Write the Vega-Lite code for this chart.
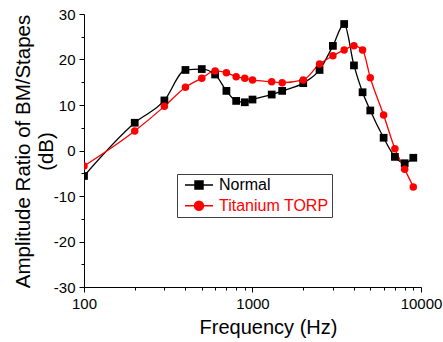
{
  "$schema": "https://vega.github.io/schema/vega-lite/v6.json",
  "width": 337,
  "height": 273,
  "autosize": {"type": "none"},
  "padding": {"left": 84, "top": 14, "right": 22, "bottom": 55},
  "background": "white",
  "config": {
    "view": {"stroke": null},
    "axis": {
      "labelFont": "Liberation Sans",
      "titleFont": "Liberation Sans",
      "labelColor": "black",
      "titleColor": "black",
      "titleFontWeight": "normal",
      "domainColor": "black",
      "domainWidth": 1,
      "tickColor": "black",
      "tickWidth": 1,
      "grid": false,
      "labelOverlap": false,
      "labelFlush": false
    }
  },
  "data": {
    "values": [
      {"freq": 100, "db": -5.6, "series": "Normal"},
      {"freq": 200, "db": 6.1, "series": "Normal"},
      {"freq": 300, "db": 11.0, "series": "Normal"},
      {"freq": 400, "db": 17.7, "series": "Normal"},
      {"freq": 500, "db": 17.9, "series": "Normal"},
      {"freq": 600, "db": 16.7, "series": "Normal"},
      {"freq": 700, "db": 13.1, "series": "Normal"},
      {"freq": 800, "db": 10.9, "series": "Normal"},
      {"freq": 900, "db": 10.6, "series": "Normal"},
      {"freq": 1000, "db": 11.2, "series": "Normal"},
      {"freq": 1300, "db": 12.3, "series": "Normal"},
      {"freq": 1500, "db": 13.1, "series": "Normal"},
      {"freq": 2000, "db": 14.8, "series": "Normal"},
      {"freq": 2500, "db": 17.7, "series": "Normal"},
      {"freq": 3000, "db": 23.0, "series": "Normal"},
      {"freq": 3500, "db": 27.8, "series": "Normal"},
      {"freq": 4000, "db": 18.7, "series": "Normal"},
      {"freq": 4500, "db": 12.8, "series": "Normal"},
      {"freq": 5000, "db": 8.8, "series": "Normal"},
      {"freq": 6000, "db": 2.8, "series": "Normal"},
      {"freq": 7000, "db": -1.4, "series": "Normal"},
      {"freq": 8000, "db": -2.8, "series": "Normal"},
      {"freq": 9000, "db": -1.6, "series": "Normal"},
      {"freq": 100, "db": -3.4, "series": "Titanium TORP"},
      {"freq": 200, "db": 4.3, "series": "Titanium TORP"},
      {"freq": 300, "db": 9.7, "series": "Titanium TORP"},
      {"freq": 400, "db": 13.9, "series": "Titanium TORP"},
      {"freq": 500, "db": 15.9, "series": "Titanium TORP"},
      {"freq": 600, "db": 17.5, "series": "Titanium TORP"},
      {"freq": 700, "db": 17.1, "series": "Titanium TORP"},
      {"freq": 800, "db": 16.2, "series": "Titanium TORP"},
      {"freq": 900, "db": 15.9, "series": "Titanium TORP"},
      {"freq": 1000, "db": 15.5, "series": "Titanium TORP"},
      {"freq": 1300, "db": 15.1, "series": "Titanium TORP"},
      {"freq": 1500, "db": 14.9, "series": "Titanium TORP"},
      {"freq": 2000, "db": 15.5, "series": "Titanium TORP"},
      {"freq": 2500, "db": 19.0, "series": "Titanium TORP"},
      {"freq": 3000, "db": 20.8, "series": "Titanium TORP"},
      {"freq": 3500, "db": 22.1, "series": "Titanium TORP"},
      {"freq": 4000, "db": 23.0, "series": "Titanium TORP"},
      {"freq": 4500, "db": 22.1, "series": "Titanium TORP"},
      {"freq": 5000, "db": 16.0, "series": "Titanium TORP"},
      {"freq": 6000, "db": 7.8, "series": "Titanium TORP"},
      {"freq": 7000, "db": 0.4, "series": "Titanium TORP"},
      {"freq": 8000, "db": -4.1, "series": "Titanium TORP"},
      {"freq": 9000, "db": -8.0, "series": "Titanium TORP"}
    ]
  },
  "encoding": {
    "x": {
      "field": "freq",
      "type": "quantitative",
      "scale": {"type": "log", "domain": [100, 10000], "nice": false},
      "axis": {
        "values": [100, 200, 300, 400, 500, 600, 700, 800, 900, 1000, 2000, 3000, 4000, 5000, 6000, 7000, 8000, 9000, 10000],
        "labelExpr": "datum.value == 100 || datum.value == 1000 || datum.value == 10000 ? '' + datum.value : ''",
        "tickSize": {"condition": {"test": "datum.value == 100 || datum.value == 1000 || datum.value == 10000", "value": 5}, "value": 3},
        "labelPadding": 4,
        "labelFontSize": 15,
        "title": "Frequency (Hz)",
        "titleFontSize": 20,
        "titleX": 184,
        "titleY": 46,
        "titleBaseline": "alphabetic",
        "titleAlign": "center"
      }
    },
    "y": {
      "field": "db",
      "type": "quantitative",
      "scale": {"domain": [-30, 30], "nice": false},
      "axis": {
        "values": [-30, -25, -20, -15, -10, -5, 0, 5, 10, 15, 20, 25, 30],
        "labelExpr": "datum.value % 10 == 0 ? '' + datum.value : ''",
        "tickSize": {"condition": {"test": "datum.value % 10 == 0", "value": 5}, "value": 3},
        "labelPadding": 4,
        "labelFontSize": 15,
        "title": ["Amplitude Ratio of BM/Stapes", "(dB)"],
        "titleFontSize": 20.5,
        "titleX": -55,
        "titleY": 137,
        "titleAngle": 270,
        "titleBaseline": "alphabetic",
        "titleAlign": "center",
        "titleLineHeight": 23
      }
    },
    "color": {
      "field": "series",
      "type": "nominal",
      "scale": {"domain": ["Normal", "Titanium TORP"], "range": ["#000000", "#ff0000"]},
      "legend": {
        "title": null,
        "orient": "none",
        "legendX": 93,
        "legendY": 160,
        "direction": "vertical",
        "strokeColor": "#404040",
        "fillColor": "white",
        "padding": 3,
        "symbolSize": 196,
        "symbolStrokeWidth": 1.5,
        "symbolOffset": 11,
        "labelOffset": 12,
        "labelFontSize": 16,
        "labelFont": "Liberation Sans",
        "rowPadding": 4.7,
        "encode": {
          "symbols": {
            "update": {
              "shape": {"signal": "datum.value == 'Normal' ? 'M-2,0H2M-0.57,-0.57H0.57V0.57H-0.57Z' : 'M-2,0H2M0.64,0A0.64,0.64,0,1,1,-0.64,0A0.64,0.64,0,1,1,0.64,0Z'"},
              "fill": {"scale": "color", "field": "value"},
              "stroke": {"scale": "color", "field": "value"},
              "strokeWidth": {"value": 1.5},
              "opacity": {"value": 1}
            }
          },
          "labels": {
            "update": {
              "fill": {"scale": "color", "field": "value"}
            }
          }
        }
      }
    }
  },
  "layer": [
    {
      "mark": {"type": "line", "interpolate": "monotone", "strokeWidth": 1.3, "clip": true}
    },
    {
      "transform": [{"filter": "datum.series == 'Normal'"}],
      "mark": {"type": "point", "shape": "square", "filled": true, "opacity": 1, "size": 60, "clip": true}
    },
    {
      "transform": [{"filter": "datum.series == 'Titanium TORP'"}],
      "mark": {"type": "point", "shape": "circle", "filled": true, "opacity": 1, "size": 56, "clip": true}
    }
  ]
}
